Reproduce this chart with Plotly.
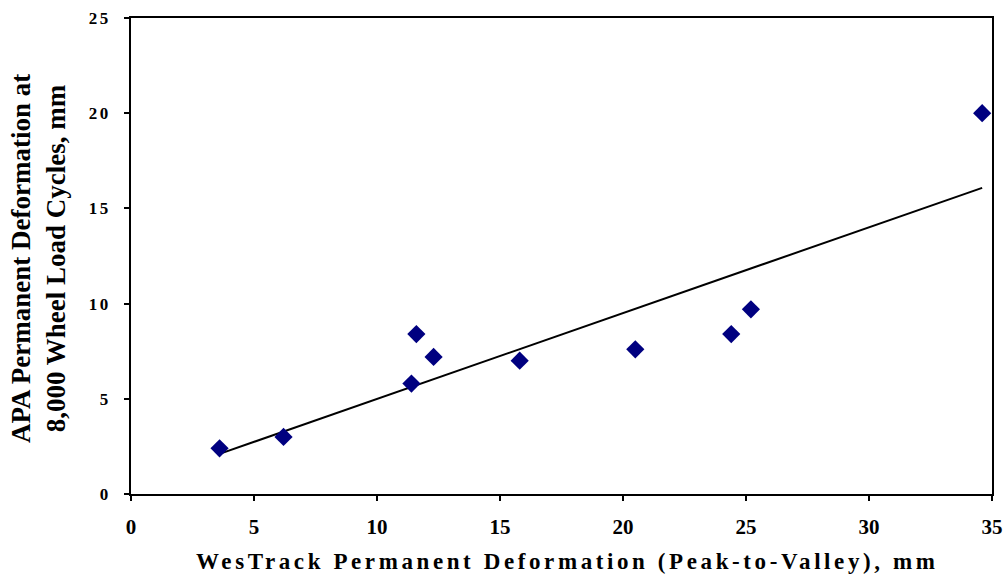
import numpy as np
import plotly.graph_objects as go

westrack = [3.6, 6.2, 11.4, 11.6, 12.3, 15.8, 20.5, 24.4, 25.2, 34.6]
apa = [2.4, 3.0, 5.8, 8.4, 7.2, 7.0, 7.6, 8.4, 9.7, 20.0]

x_ticks = [0, 5, 10, 15, 20, 25, 30, 35]
y_ticks = [0, 5, 10, 15, 20, 25]

slope, intercept = np.polyfit(westrack, apa, 1)
xfit = [min(westrack), max(westrack)]
yfit = [slope * x + intercept for x in xfit]

font = "Liberation Serif"


def spaced(t, px):
    return f'<span style="letter-spacing:{px}px">{t}</span>'


fig = go.Figure()
fig.add_trace(go.Scatter(x=xfit, y=yfit, mode="lines",
                         line=dict(color="black", width=2), hoverinfo="skip"))
fig.add_trace(go.Scatter(x=westrack, y=apa, mode="markers",
                         marker=dict(symbol="diamond", size=14, color="#000080",
                                     line=dict(width=0))))

axis_common = dict(showgrid=False, zeroline=False, showline=True, linecolor="black",
                   linewidth=1.5, mirror=True, ticks="outside", ticklen=5,
                   tickcolor="black", tickwidth=1.5, automargin=False)

fig.update_layout(
    width=1006, height=578,
    margin=dict(l=131, r=14, t=18, b=84),
    paper_bgcolor="white", plot_bgcolor="white",
    showlegend=False,
    xaxis=dict(range=[0, 35], tickvals=x_ticks,
               ticktext=[str(v) for v in x_ticks],
               tickfont=dict(family=font, size=21, color="black", weight="bold"),
               ticklabelstandoff=8, **axis_common),
    yaxis=dict(range=[0, 25], tickvals=y_ticks,
               ticktext=[spaced(v, 2.5) for v in y_ticks],
               tickfont=dict(family=font, size=17, color="black", weight="bold"),
               ticklabelstandoff=10, **axis_common),
)

fig.add_annotation(text="<b>" + spaced("WesTrack Permanent Deformation (Peak-to-Valley), mm", 3.6) + "</b>",
                   xref="paper", yref="paper", x=(567 - 131) / (992 - 131), y=0,
                   yshift=-67, showarrow=False, xanchor="center", yanchor="middle",
                   font=dict(family=font, size=23, color="black"))
fig.add_annotation(text="<b>APA Permanent Deformation at<br>8,000 Wheel Load Cycles, mm</b>",
                   xref="paper", yref="paper", x=0, xshift=-93, y=(494 - 259) / (494 - 18),
                   showarrow=False, textangle=-90, xanchor="center", yanchor="middle",
                   font=dict(family=font, size=27, color="black"))

fig.write_html("out.html", config={"displayModeBar": False},
               post_script="document.body.style.margin='0';")
